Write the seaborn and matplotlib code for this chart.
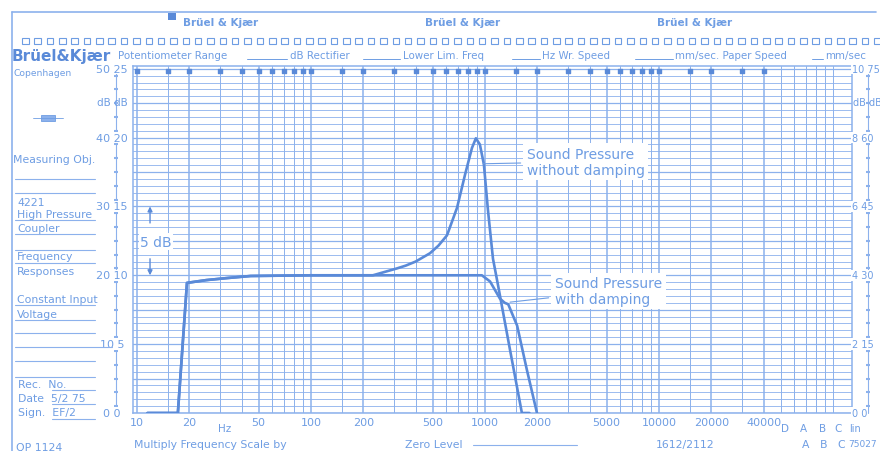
import numpy as np
import pandas as pd
import matplotlib
matplotlib.use("Agg")
import matplotlib.pyplot as plt
import seaborn as sns
from matplotlib.patches import Rectangle
from matplotlib.lines import Line2D

# frequency response (Hz, dB)
freq_damped = [11.5, 17.2, 19.4, 25, 33, 45, 100, 300, 600, 960, 1070, 1220, 1300, 1360, 1530, 1740, 1990]
level_damped = [0, 0, 18.9, 19.3, 19.6, 19.9, 20, 20, 20, 20, 19.1, 16.6, 16.0, 15.8, 12.7, 6.3, 0]

freq_undamped = [11.5, 17.2, 19.4, 25, 33, 45, 100, 227, 312, 350, 400, 483, 540, 605, 691, 768,
                 842, 887, 935, 986, 1040, 1112, 1190, 1390, 1630, 1800]
level_undamped = [0, 0, 18.9, 19.3, 19.6, 19.9, 20, 20, 21.0, 21.4, 22.0, 23.2, 24.3, 25.8, 29.8, 34.6,
                  38.5, 39.9, 39.0, 36.1, 29.5, 22.4, 18.5, 9.3, 0, 0]

freq_labels = [10, 20, 50, 100, 200, 500, 1000, 2000, 5000, 10000, 20000, 40000]
scale_db = [0, 10, 20, 30, 40, 50]
left_scale = ["0 0", "10 5", "20 10", "30 15", "40 20", "50 25"]
right_scale = ["0 0", "2 15", "4 30", "6 45", "8 60", "10 75"]

df = pd.concat([
    pd.DataFrame({"freq": freq_damped, "level": level_damped, "curve": "with damping"}),
    pd.DataFrame({"freq": freq_undamped, "level": level_undamped, "curve": "without damping"}),
])

sns.set_style("white")
plt.rcParams["font.family"] = ["DejaVu Sans"]

txt_c = "#6e9de3"
line_c = "#5a8ad8"
grid_c = "#8cb1ec"

fig = plt.figure(figsize=(8.8, 4.52), dpi=100)
W, H = 880, 452


def px(x, y):
    return x / W, 1 - y / H


ax = fig.add_axes([133 / W, 1 - 414 / H, 719 / W, 347 / H])
ax.set_xscale("log")
ax.set_xlim(9.5, 128500)
ax.set_ylim(0, 50.4)

# chart paper grid
for h in range(0, 51):
    ax.axhline(h, color=grid_c, lw=0.9 if h % 5 == 0 else 0.6, zorder=0)
grid_f = [m * 10 ** e for e in range(1, 5) for m in (1, 1.5, 2, 3, 4, 5, 6, 7, 8, 9)]
grid_f += [60000, 80000, 100000]
for f in grid_f:
    ax.axvline(f, color=grid_c, lw=1.1 if f in freq_labels else 0.7, zorder=0)
top_marks = [f for f in grid_f if f < 50000]
ax.scatter(top_marks, [0.985] * len(top_marks), marker="s", s=5, color=line_c,
           transform=ax.get_xaxis_transform(), clip_on=False, zorder=3)
for s in ax.spines.values():
    s.set_color(grid_c)
    s.set_linewidth(1.1)

sns.lineplot(data=df, x="freq", y="level", hue="curve", palette=[line_c, line_c],
             estimator=None, sort=False, legend=False, lw=1.9, ax=ax, zorder=4)

ax.set_xticks(freq_labels)
ax.set_xticklabels([str(f) for f in freq_labels])
ax.xaxis.set_minor_locator(matplotlib.ticker.NullLocator())
ax.tick_params(axis="x", length=0, pad=3, labelsize=8, labelcolor=txt_c)
ax.set_yticks([])
ax.set_xlabel("")
ax.set_ylabel("")

xt = ax.get_xaxis_transform()
ax.text(32, -0.03, "Hz", transform=xt, ha="center", va="top", fontsize=7.5, color=txt_c)
for lab, f in zip(["D", "A", "B", "C"], [53000, 67300, 86500, 107000]):
    ax.text(f, -0.03, lab, transform=xt, ha="center", va="top", fontsize=7.5, color=txt_c)
ax.text(123600, -0.03, "lin", transform=xt, ha="left", va="top", fontsize=7, color=txt_c)

# side dB scales
yt = ax.get_yaxis_transform()
for d, lab in zip(scale_db, left_scale):
    ax.text(-0.029, d, lab, transform=yt, ha="center", va="center", fontsize=8, color=txt_c,
            bbox=dict(fc="white", ec="none", pad=0.5))
for d, lab in zip(scale_db, right_scale):
    ax.text(1.0, d, lab, transform=yt, ha="left", va="center", fontsize=7, color=txt_c,
            bbox=dict(fc="white", ec="none", pad=0.5))
ax.text(-0.029, 45.2, "dB dB", transform=yt, ha="center", va="center", fontsize=7.5, color=txt_c)
ax.text(1.001, 45.2, "dB dB", transform=yt, ha="left", va="center", fontsize=7, color=txt_c)
for xa in (-0.024, 1.022):
    ax.plot([xa, xa], [0, 50.4], transform=yt, color=grid_c, lw=0.8, clip_on=False, zorder=0)
    ax.scatter([xa] * 25, np.arange(1, 50, 2), marker="_", s=12, color=grid_c,
               transform=yt, clip_on=False, zorder=0)

# curve annotations
box = dict(fc="white", ec="none", pad=2.5)
ax.annotate("Sound Pressure\nwithout damping", xy=(975, 36.2), xytext=(1742, 36.5),
            ha="left", va="center", fontsize=10, color=txt_c, linespacing=1.15, bbox=box,
            arrowprops=dict(arrowstyle="-", color=txt_c, lw=0.8, shrinkA=2, shrinkB=0), zorder=5)
ax.annotate("Sound Pressure\nwith damping", xy=(1393, 16.1), xytext=(2523, 17.7),
            ha="left", va="center", fontsize=10, color=txt_c, linespacing=1.15, bbox=box,
            arrowprops=dict(arrowstyle="-", color=txt_c, lw=0.8, shrinkA=2, shrinkB=0), zorder=5)
ax.text(12.9, 24.9, "5 dB", ha="center", va="center", fontsize=10, color=txt_c,
        bbox=dict(fc="white", ec="none", pad=1), zorder=5)
ax.annotate("", xy=(11.9, 30), xytext=(11.9, 27.6),
            arrowprops=dict(arrowstyle="-|>", color=line_c, lw=1, mutation_scale=7, shrinkA=0, shrinkB=0))
ax.annotate("", xy=(11.9, 20), xytext=(11.9, 22.4),
            arrowprops=dict(arrowstyle="-|>", color=line_c, lw=1, mutation_scale=7, shrinkA=0, shrinkB=0))

# paper frame, sprocket holes and header
fig.add_artist(Line2D([12 / W, 876 / W], [1 - 13 / H] * 2, color=grid_c, lw=1.2))
fig.add_artist(Line2D([12 / W] * 2, [1 - 13 / H, 0], color=grid_c, lw=1.2))
for x in np.arange(22, 876, 12.35):
    fig.add_artist(Rectangle(px(x, 45), 6.5 / W, 6.5 / H, fill=False, ec=txt_c, lw=0.8,
                             transform=fig.transFigure))
fig.add_artist(Rectangle(px(168, 21), 8 / W, 7 / H, fc=line_c, ec="none", transform=fig.transFigure))
for x in (183, 425, 657):
    fig.text(*px(x, 23), "Brüel & Kjær", fontsize=7.5, color=txt_c, va="center", weight="bold")

fig.text(*px(12, 56), "Brüel&Kjær", fontsize=11, color=line_c, va="center", weight="bold")
head = [(118, "Potentiometer Range"), (290, "dB Rectifier"), (403, "Lower Lim. Freq"),
        (542, "Hz Wr. Speed"), (675, "mm/sec. Paper Speed"), (825, "mm/sec")]
for x, s in head:
    fig.text(*px(x, 56), s, fontsize=7.4, color=txt_c, va="center")
for x0, x1 in [(247, 287), (363, 400), (512, 540), (635, 673), (812, 823)]:
    fig.add_artist(Line2D([x0 / W, x1 / W], [1 - 60 / H] * 2, color=txt_c, lw=0.7))

# left info panel
fig.text(*px(13, 73), "Copenhagen", fontsize=6.6, color=txt_c, va="center")
panel = [(13, 160, "Measuring Obj."), (17, 203, "4221"),
         (17, 215, "High Pressure"), (17, 229, "Coupler"), (17, 257, "Frequency"),
         (17, 272, "Responses"), (17, 300, "Constant Input"), (17, 315, "Voltage"),
         (18, 385, "Rec.  No."), (18, 399, "Date  5/2 75"), (18, 413, "Sign.  EF/2"),
         (16, 448, "QP 1124")]
for x, y, s in panel:
    fig.text(*px(x, y), s, fontsize=7.8, color=txt_c, va="center")
for y, x0, x1 in [(180, 15, 95), (194, 15, 95), (221, 15, 95), (235, 15, 95), (251, 15, 95),
                  (264, 15, 95), (306, 15, 95), (321, 15, 95), (334, 15, 95), (348, 15, 112),
                  (362, 15, 95), (378, 15, 95), (391, 52, 95), (405, 52, 95), (420, 52, 95)]:
    fig.add_artist(Line2D([x0 / W, x1 / W], [1 - y / H] * 2, color=grid_c, lw=0.8))
fig.add_artist(Rectangle(px(41, 122), 14 / W, 6 / H, fc=grid_c, ec=txt_c, lw=0.6,
                         transform=fig.transFigure))
fig.add_artist(Line2D([33 / W, 63 / W], [1 - 119 / H] * 2, color=txt_c, lw=0.6))

# bottom line of the paper
bottom = [(134, "Multiply Frequency Scale by"), (405, "Zero Level"), (656, "1612/2112"),
          (802, "A   B   C"), (848, "75027")]
for x, s in bottom:
    fig.text(*px(x, 445), s, fontsize=7.8 if x < 840 else 6.5, color=txt_c, va="center")
fig.add_artist(Line2D([473 / W, 577 / W], [1 - 446 / H] * 2, color=grid_c, lw=0.8))

fig.savefig("out.png", dpi=100, facecolor="white")
